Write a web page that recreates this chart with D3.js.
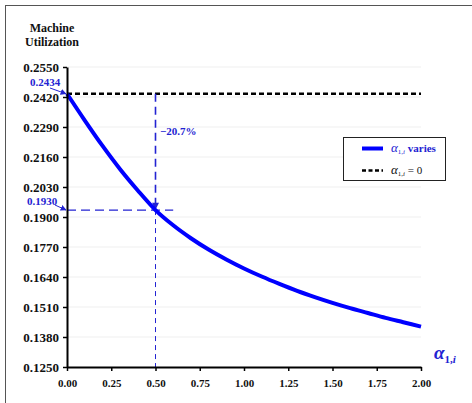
<!DOCTYPE html>
<html><head><meta charset="utf-8">
<script src="https://cdn.jsdelivr.net/npm/d3@7"></script>
<style>
body{margin:0;background:#fff;}
svg{display:block;}
svg text{font-family:"Liberation Serif","Times New Roman",serif !important;}
</style>
</head><body>
<svg id="c" width="472" height="403"></svg>
<script>
// Data
const alphaValues = [0,0.1,0.2,0.3,0.4,0.5,0.6,0.7,0.8,0.9,1.0,1.1,1.2,1.3,1.4,1.5,1.6,1.7,1.8,1.9,2.0];
const utilization = [0.2434,0.2319,0.2209,0.2107,0.2015,0.1930,0.1864,0.1808,0.1759,0.1716,0.1677,0.1642,0.1610,0.1580,0.1553,0.1528,0.1505,0.1484,0.1463,0.1444,0.1425];
const baselineValue = 0.2434;
const markedAlpha = 0.5;
const markedValue = 0.1930;
const changeLabel = "\u221220.7%";
const yTickValues = [0.1250,0.1380,0.1510,0.1640,0.1770,0.1900,0.2030,0.2160,0.2290,0.2420,0.2550];
const xTickValues = [0,0.25,0.5,0.75,1.0,1.25,1.5,1.75,2.0];

const svg = d3.select("#c");
const blue = "#0000ff";
const annBlue = "#2323d2";

const x = d3.scaleLinear().domain([0,2]).range([67,421]);
const y = d3.scaleLinear().domain([0.125,0.255]).range([367,67]);

// frame
svg.append("rect").attr("x",5.5).attr("y",5.5).attr("width",500).attr("height",500)
  .attr("fill","none").attr("stroke","#555").attr("stroke-width",1);

// markers
const defs = svg.append("defs");
defs.append("marker").attr("id","arr").attr("viewBox","0 0 10 10").attr("refX",9).attr("refY",5)
  .attr("markerWidth",6).attr("markerHeight",6).attr("markerUnits","userSpaceOnUse").attr("orient","auto")
  .append("path").attr("d","M0,0 L10,5 L0,10 z").attr("fill",annBlue);
defs.append("marker").attr("id","arrBig").attr("viewBox","0 0 10 10").attr("refX",9).attr("refY",5)
  .attr("markerWidth",9).attr("markerHeight",7).attr("markerUnits","userSpaceOnUse").attr("orient","auto")
  .append("path").attr("d","M0,0 L10,5 L0,10 z").attr("fill",annBlue);

// gridlines
svg.append("g").selectAll("line").data(yTickValues.slice(1)).join("line")
  .attr("x1",x(0)).attr("x2",x(2)).attr("y1",d=>y(d)).attr("y2",d=>y(d))
  .attr("stroke","#efefef").attr("stroke-width",1);

// title
svg.append("text").attr("x",52).attr("y",32).attr("text-anchor","middle")
  .attr("font-weight","bold").attr("font-size",12).attr("fill","#111").text("Machine");
svg.append("text").attr("x",52).attr("y",46).attr("text-anchor","middle")
  .attr("font-weight","bold").attr("font-size",12).attr("fill","#111").text("Utilization");

// baseline dashed
svg.append("line").attr("x1",x(0)).attr("x2",x(2)).attr("y1",y(baselineValue)).attr("y2",y(baselineValue))
  .attr("stroke","#000").attr("stroke-width",2.5).attr("stroke-dasharray","5,3");

// vertical lower thin dashed
svg.append("line").attr("x1",x(markedAlpha)).attr("x2",x(markedAlpha)).attr("y1",y(markedValue)).attr("y2",y(0.125))
  .attr("stroke",annBlue).attr("stroke-width",1).attr("stroke-dasharray","5,4");
// horizontal dashed at marked value
svg.append("line").attr("x1",x(0)).attr("x2",x(0.6)).attr("y1",y(markedValue)).attr("y2",y(markedValue))
  .attr("stroke",annBlue).attr("stroke-width",1.2).attr("stroke-dasharray","9,5");
// vertical upper arrow
svg.append("line").attr("x1",x(markedAlpha)).attr("x2",x(markedAlpha)).attr("y1",y(baselineValue)).attr("y2",y(markedValue)-1)
  .attr("stroke",annBlue).attr("stroke-width",1.6).attr("stroke-dasharray","8,5").attr("marker-end","url(#arrBig)");

// curve
svg.append("path").datum(alphaValues.map((a,i)=>[a,utilization[i]]))
  .attr("d",d3.line().x(d=>x(d[0])).y(d=>y(d[1])).curve(d3.curveMonotoneX))
  .attr("fill","none").attr("stroke",blue).attr("stroke-width",4).attr("stroke-linecap","butt");

// axes
const yAxis = svg.append("g").attr("transform",`translate(${x(0)},0)`)
  .call(d3.axisLeft(y).tickValues(yTickValues).tickFormat(d3.format(".4f")).tickSize(4).tickSizeOuter(0).tickPadding(4));
yAxis.attr("font-family",null);
yAxis.select(".domain").attr("stroke","#000").attr("stroke-width",2);
yAxis.selectAll(".tick line").attr("stroke","#000").attr("stroke-width",1.5);
yAxis.selectAll(".tick text").attr("font-weight","bold").attr("font-size",13).attr("fill","#111");

const xAxis = svg.append("g").attr("transform",`translate(0,${y(0.125)})`)
  .call(d3.axisBottom(x).tickValues(xTickValues).tickFormat(d3.format(".2f")).tickSize(4).tickSizeOuter(0).tickPadding(8));
xAxis.attr("font-family",null);
xAxis.select(".domain").attr("stroke","#000").attr("stroke-width",2);
xAxis.selectAll(".tick line").attr("stroke","#000").attr("stroke-width",1.5);
xAxis.selectAll(".tick text").attr("font-weight","bold").attr("font-size",11).attr("fill","#111");

// annotations
svg.append("text").attr("x",160).attr("y",135).attr("font-weight","bold").attr("font-size",11)
  .attr("fill",annBlue).text(changeLabel);
svg.append("text").attr("x",45).attr("y",86).attr("text-anchor","middle").attr("font-weight","bold").attr("font-size",11)
  .attr("fill",annBlue).text(d3.format(".4f")(baselineValue));
svg.append("line").attr("x1",50).attr("y1",88).attr("x2",x(0)-1).attr("y2",y(baselineValue))
  .attr("stroke",annBlue).attr("stroke-width",1).attr("marker-end","url(#arr)");
svg.append("text").attr("x",42).attr("y",205).attr("text-anchor","middle").attr("font-weight","bold").attr("font-size",11)
  .attr("fill",annBlue).text(d3.format(".4f")(markedValue));
svg.append("line").attr("x1",55).attr("y1",205).attr("x2",x(0)-1).attr("y2",y(markedValue))
  .attr("stroke",annBlue).attr("stroke-width",1).attr("marker-end","url(#arr)");

// axis title alpha_{1,i}
const at = svg.append("text").attr("x",434).attr("y",359).attr("fill",annBlue).attr("font-weight","bold");
at.append("tspan").attr("font-style","italic").attr("font-size",19).text("\u03b1");
at.append("tspan").attr("font-size",11).attr("dy",4).text("1,");
at.append("tspan").attr("font-size",11).attr("font-style","italic").text("i");

// legend
const lg = svg.append("g");
lg.append("rect").attr("x",343.5).attr("y",137.5).attr("width",102).attr("height",43)
  .attr("fill","#fff").attr("stroke","#222").attr("stroke-width",1);
lg.append("line").attr("x1",362).attr("x2",383).attr("y1",148.5).attr("y2",148.5)
  .attr("stroke",blue).attr("stroke-width",4);
lg.append("line").attr("x1",362).attr("x2",383).attr("y1",170.5).attr("y2",170.5)
  .attr("stroke","#000").attr("stroke-width",2.5).attr("stroke-dasharray","4,2.5");
const l1 = lg.append("text").attr("x",391).attr("y",152).attr("fill",annBlue).attr("font-size",11);
l1.append("tspan").attr("font-style","italic").attr("font-size",13).text("\u03b1");
l1.append("tspan").attr("font-size",7).attr("dy",2).text("1,");
l1.append("tspan").attr("font-size",7).attr("font-style","italic").text("i");
l1.append("tspan").attr("dy",-2).attr("font-weight","bold").text(" varies");
const l2 = lg.append("text").attr("x",391).attr("y",174).attr("fill","#111").attr("font-size",11);
l2.append("tspan").attr("font-style","italic").attr("font-size",13).text("\u03b1");
l2.append("tspan").attr("font-size",7).attr("dy",2).text("1,");
l2.append("tspan").attr("font-size",7).attr("font-style","italic").text("i");
l2.append("tspan").attr("dy",-2).text(" = 0");
</script>
</body></html>
